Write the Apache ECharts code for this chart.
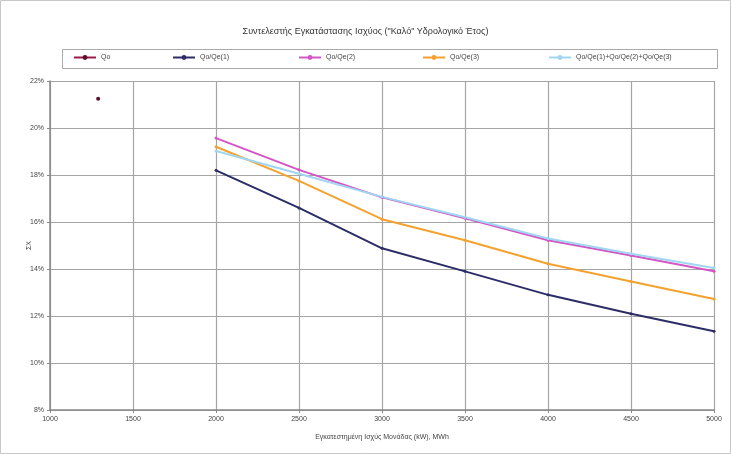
<!DOCTYPE html>
<html>
<head>
<meta charset="utf-8">
<script src="https://cdn.jsdelivr.net/npm/echarts@6/dist/echarts.min.js"></script>
<style>
html,body{margin:0;padding:0;background:#fff;}
#c{width:731px;height:454px;}
</style>
</head>
<body>
<div id="c"></div>
<script>
// ---- data ----
const titleText = 'Συντελεστής Εγκατάστασης Ισχύος ("Καλό" Υδρολογικό Έτος)';
const xAxisName = 'Εγκατεστημένη Ισχύς Μονάδας (kW), MWh';
const yAxisName = 'ΣΧ';
const seriesNames = ['Qo', 'Qo/Qe(1)', 'Qo/Qe(2)', 'Qo/Qe(3)', 'Qo/Qe(1)+Qo/Qe(2)+Qo/Qe(3)'];
const qoX = [1290];
const qoY = [21.25];
const powerX = [2000, 2500, 3000, 3500, 4000, 4500, 5000];
const s1 = [18.2, 16.6, 14.88, 13.9, 12.9, 12.1, 11.35];
const s2 = [19.57, 18.22, 17.05, 16.16, 15.22, 14.57, 13.9];
const s3 = [19.2, 17.75, 16.12, 15.22, 14.22, 13.47, 12.72];
const s4 = [19.02, 18.05, 17.07, 16.2, 15.3, 14.65, 14.04];
const xTicks = {min: 1000, max: 5000, interval: 500};
const yTicks = {min: 8, max: 22, interval: 2};

// ---- styling ----
const colors = ['#9b1a4a', '#2c2c66', '#d455c4', '#f5a12e', '#9fd6f2'];
const pair = (xs, ys) => xs.map((x, i) => [x, ys[i]]);
const seriesData = [pair(qoX, qoY), pair(powerX, s1), pair(powerX, s2), pair(powerX, s3), pair(powerX, s4)];
const legendLefts = [73, 172, 298, 422, 548];

const chart = echarts.init(document.getElementById('c'));
const txt = '#444';
const option = {
  backgroundColor: '#fff',
  animation: false,
  title: {
    text: titleText, left: 'center', top: 22,
    textStyle: {fontSize: 9, fontWeight: 'normal', color: '#333', fontFamily: 'Liberation Sans'}
  },
  legend: seriesNames.map((n, i) => ({
    data: [n], left: legendLefts[i], top: 54, itemWidth: 22, itemHeight: 6, itemGap: 4,
    padding: 0,
    textStyle: {fontSize: 7, color: txt, fontFamily: 'Liberation Sans'}
  })),
  graphic: [
    {type: 'rect', shape: {x: 0.5, y: 0.5, width: 730, height: 453}, style: {fill: 'none', stroke: '#c8c8c8', lineWidth: 1}, silent: true, z: -1},
    {type: 'rect', shape: {x: 62.5, y: 49.5, width: 655, height: 19}, style: {fill: 'none', stroke: '#aaa', lineWidth: 1}, silent: true}
  ],
  grid: {left: 50, right: 17, top: 81, bottom: 44},
  xAxis: {
    type: 'value', min: xTicks.min, max: xTicks.max, interval: xTicks.interval,
    name: xAxisName, nameLocation: 'middle', nameGap: 24,
    nameTextStyle: {fontSize: 7, color: txt, fontFamily: 'Liberation Sans'},
    axisLine: {lineStyle: {color: '#888', width: 1.5}},
    axisTick: {show: true, length: 3, lineStyle: {color: '#888'}},
    axisLabel: {fontSize: 7, color: txt, margin: 6, formatter: v => String(v), fontFamily: 'Liberation Sans'},
    splitLine: {show: true, lineStyle: {color: '#a5a5a5', width: 1.2}}
  },
  yAxis: {
    type: 'value', min: yTicks.min, max: yTicks.max, interval: yTicks.interval,
    name: yAxisName, nameLocation: 'middle', nameGap: 17, nameRotate: 90, nameMoveOverlap: false,
    nameTextStyle: {fontSize: 7, color: txt, fontFamily: 'Liberation Sans'},
    axisLine: {show: true, lineStyle: {color: '#888', width: 1.5}},
    axisTick: {show: true, length: 3, lineStyle: {color: '#888'}},
    axisLabel: {fontSize: 7, color: txt, margin: 6, formatter: '{value}%', fontFamily: 'Liberation Sans'},
    splitLine: {show: true, lineStyle: {color: '#a5a5a5', width: 1.2}}
  },
  series: seriesNames.map((n, i) => ({
    name: n, type: 'line', data: seriesData[i],
    color: colors[i],
    lineStyle: {width: 2, color: colors[i]},
    itemStyle: {color: i === 0 ? '#5a0f2a' : colors[i]},
    symbol: 'circle', symbolSize: i === 0 ? 4 : 3,
    showSymbol: true
  }))
};
chart.setOption(option);
</script>
</body>
</html>
